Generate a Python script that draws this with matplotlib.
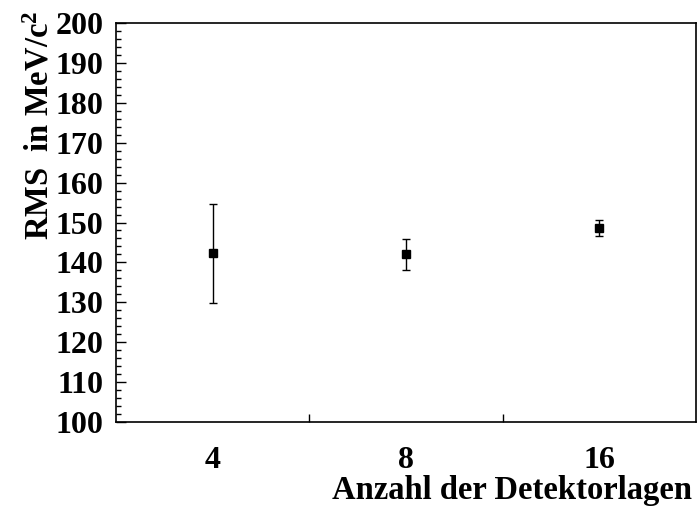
import numpy as np
import matplotlib
matplotlib.use('Agg')
import matplotlib.pyplot as plt
from matplotlib.ticker import MultipleLocator, FixedLocator

plt.rcParams['font.family'] = 'Liberation Serif'
plt.rcParams['font.weight'] = 'bold'
plt.rcParams['mathtext.fontset'] = 'custom'
plt.rcParams['mathtext.rm'] = 'Liberation Serif:bold'
plt.rcParams['mathtext.default'] = 'rm'

# data
layers = ['4', '8', '16']
rms = [142.3, 142.0, 148.7]
rms_err = [12.4, 3.8, 2.0]

fig = plt.figure(figsize=(6.98, 5.18), dpi=100)
ax = fig.add_axes([116/698, 1 - 422/518, 580/698, 399/518])

x = np.arange(len(layers)) + 0.5
ax.errorbar(x, rms, yerr=rms_err, fmt='s', color='black', ms=5.8,
            elinewidth=1, capsize=3, capthick=1, ecolor='black')

ax.set_xlim(0, len(layers))
ax.set_ylim(100, 200)

# y axis: majors every 10, minors every 2, drawn inward
ax.yaxis.set_major_locator(MultipleLocator(10))
ax.yaxis.set_minor_locator(MultipleLocator(2))
ax.tick_params(axis='y', which='major', direction='in', length=7, width=1,
               labelsize=23, pad=9, right=False)
ax.tick_params(axis='y', which='minor', direction='in', length=3.5, width=1,
               right=False)

# x axis: ticks at bin edges, labels at bin centres
ax.xaxis.set_major_locator(FixedLocator(np.arange(1, len(layers))))
ax.xaxis.set_minor_locator(FixedLocator(x))
ax.set_xticklabels([])
ax.set_xticklabels(layers, minor=True)
ax.tick_params(axis='x', which='major', direction='in', length=6, width=1,
               top=False)
ax.tick_params(axis='x', which='minor', length=0, labelsize=23, pad=17,
               top=False)

for lbl in ax.get_yticklabels() + ax.get_xticklabels(minor=True):
    lbl.set_fontweight('bold')

for s in ax.spines.values():
    s.set_linewidth(1.2)

fig.text(40/698, 1 - 11/518, 'RMS  in MeV/c$^{2}$', rotation=90,
         ha='center', va='top', fontsize=23.5, fontweight='bold')
fig.text(692/698, 1 - 491/518, 'Anzahl der Detektorlagen',
         ha='right', va='center', fontsize=23.5, fontweight='bold')

fig.savefig('out.png', dpi=100)
